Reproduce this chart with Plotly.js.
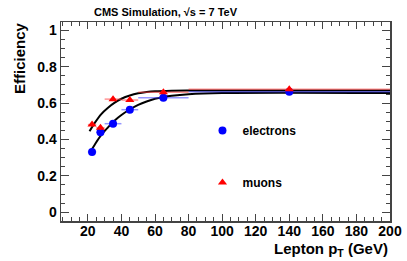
<!DOCTYPE html>
<html><head><meta charset="utf-8">
<script src="https://cdn.plot.ly/plotly-3.0.1.min.js"></script>
<style>html,body{margin:0;padding:0;background:#fff}#chart{width:407px;height:261px}</style>
</head><body><div id="chart"></div>
<script>
// Data points (lepton pT bin centres, efficiencies, bin half-widths)
const elecPt   = [22.5, 27.5, 35, 45, 65, 140];
const elecEff  = [0.332, 0.44, 0.487, 0.564, 0.63, 0.662];
const elecXerrLo = [2.5, 2.5, 5, 5, 15, 60];
const elecXerrHi = [2.5, 2.5, 5, 5, 15, 60];
const elecYerr = [0.008, 0.008, 0.008, 0.008, 0.006, 0.006];

const muPt    = [22.5, 27.5, 35, 45, 65, 140];
const muEff   = [0.482, 0.465, 0.622, 0.617, 0.66, 0.676];
const muXerrLo = [2.5, 2.5, 5, 5, 15, 60];
const muXerrHi = [2.5, 2.5, 5, 5, 15, 60];
const muYerr  = [0.012, 0.012, 0.01, 0.01, 0.01, 0.01];

// Fit curves
const muFitX = [21, 24, 28, 32, 36, 40, 45, 50, 55, 60, 70, 80, 100, 200];
const muFitY = [0.445, 0.49, 0.54, 0.575, 0.603, 0.624, 0.642, 0.654, 0.661, 0.665, 0.668, 0.669, 0.669, 0.669];
const elFitX = [21, 24, 28, 32, 36, 40, 45, 50, 55, 60, 65, 70, 80, 100, 200];
const elFitY = [0.325, 0.37, 0.425, 0.467, 0.505, 0.535, 0.565, 0.59, 0.609, 0.624, 0.634, 0.641, 0.649, 0.655, 0.655];

const legendNames = ['electrons', 'muons'];
const titleText = 'CMS Simulation, \u221As = 7 TeV';
const xTitle = 'Lepton p<sub>T</sub> (GeV)';
const yTitle = 'Efficiency';

const F = 'Liberation Sans, Arial, Helvetica, sans-serif';

const traces = [
  {x: muFitX, y: muFitY, mode: 'lines', line: {color: '#000', width: 2, shape: 'spline'}, showlegend: false, hoverinfo: 'skip'},
  {x: elFitX, y: elFitY, mode: 'lines', line: {color: '#000', width: 2, shape: 'spline'}, showlegend: false, hoverinfo: 'skip'},
  {x: elecPt, y: elecEff, mode: 'markers', name: legendNames[0], legendgroup: 'e',
   marker: {color: '#0000ff', size: 8, symbol: 'circle'},
   error_x: {type: 'data', symmetric: false, array: elecXerrHi, arrayminus: elecXerrLo, color: 'rgba(60,60,255,0.55)', thickness: 1.5, width: 0},
   error_y: {type: 'data', array: elecYerr, color: 'rgba(60,60,255,0.55)', thickness: 1.5, width: 0}},
  {x: muPt, y: muEff, mode: 'markers', name: legendNames[1], legendgroup: 'm',
   marker: {color: '#ff0000', size: 8, symbol: 'triangle-up'},
   error_x: {type: 'data', symmetric: false, array: muXerrHi, arrayminus: muXerrLo, color: 'rgba(255,60,60,0.55)', thickness: 1.5, width: 0},
   error_y: {type: 'data', array: muYerr, color: 'rgba(255,60,60,0.55)', thickness: 1.5, width: 0}}
];

const layout = {
  width: 407, height: 261,
  margin: {l: 61, r: 17, t: 22, b: 40, pad: 0},
  paper_bgcolor: '#fff', plot_bgcolor: '#fff',
  font: {family: F, size: 14, color: '#000', weight: 'bold'},
  showlegend: true,
  legend: {x: 0.43, y: 0.324, xanchor: 'left', yanchor: 'middle', bgcolor: 'rgba(0,0,0,0)',
           font: {family: F, size: 12, color: '#000', weight: 'bold'}, tracegroupgap: 33, itemwidth: 30},
  xaxis: {range: [4, 200], showgrid: false, zeroline: false, showline: true, linecolor: '#444', linewidth: 1.5,
          mirror: 'allticks', ticks: 'inside', ticklen: 7, tickcolor: '#444', dtick: 20, tick0: 0,
          tickfont: {family: F, size: 14, weight: 'bold'}, ticklabelstandoff: -3,
          minor: {ticks: 'inside', ticklen: 4, dtick: 5, tickcolor: '#444'}},
  yaxis: {range: [-0.048, 1.046], showgrid: false, zeroline: false, showline: true, linecolor: '#444', linewidth: 1.5,
          mirror: 'allticks', ticks: 'inside', ticklen: 8, tickcolor: '#444', dtick: 0.2, tick0: 0,
          tickfont: {family: F, size: 14, weight: 'bold'},
          minor: {ticks: 'inside', ticklen: 4, dtick: 0.05, tickcolor: '#444'}},
  annotations: [
    {text: titleText, xref: 'paper', yref: 'paper', x: 0.32, y: 1.0, yshift: 2, xanchor: 'center', yanchor: 'bottom', showarrow: false,
     font: {family: F, size: 11, weight: 'bold'}},
    {text: xTitle, xref: 'paper', yref: 'paper', x: 1, y: 0, yshift: -40, xanchor: 'right', yanchor: 'bottom', showarrow: false,
     font: {family: F, size: 15, weight: 'bold'}},
    {text: yTitle, xref: 'paper', yref: 'paper', x: 0, xshift: -42, y: 1, yshift: 2, xanchor: 'center', yanchor: 'top', textangle: -90, showarrow: false,
     font: {family: F, size: 15, weight: 'bold'}}
  ]
};

Plotly.newPlot('chart', traces, layout, {displayModeBar: false, staticPlot: true});
</script></body></html>
